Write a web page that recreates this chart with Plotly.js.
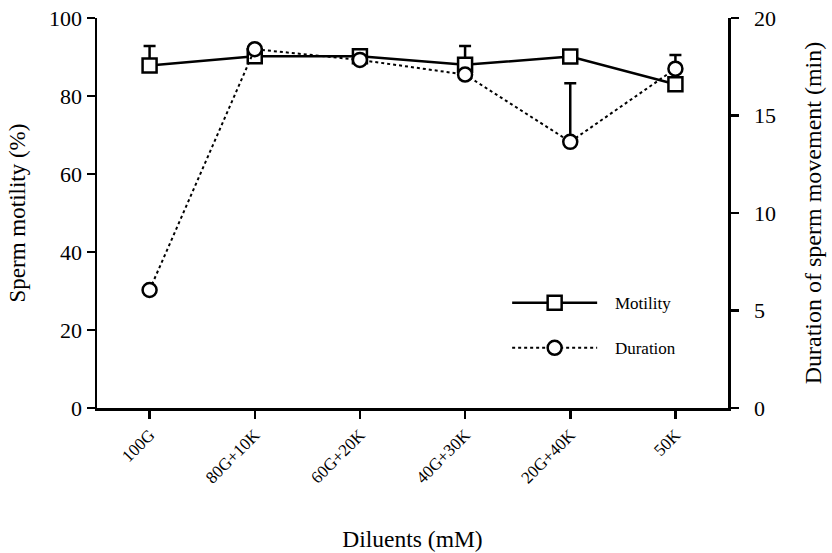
<!DOCTYPE html>
<html>
<head>
<meta charset="utf-8">
<script src="https://cdn.plot.ly/plotly-3.0.1.min.js"></script>
<style>html,body{margin:0;padding:0;background:#fff;}#chart{width:832px;height:553px;}</style>
</head>
<body>
<div id="chart"></div>
<script>
const diluents = ["100G", "80G+10K", "60G+20K", "40G+30K", "20G+40K", "50K"];
const motility = [87.8, 90.2, 90.2, 88, 90.1, 83];
const motilityErr = [5, 0, 0, 4.8, 0, 0];
const duration = [6.05, 18.4, 17.85, 17.1, 13.65, 17.4];
const durationErr = [0, 0, 0, 0, 3.0, 0.7];
const zeros = [0, 0, 0, 0, 0, 0];
const seriesNames = ["Motility", "Duration"];
const rightTicks = [0, 5, 10, 15, 20];

const FONT = "Liberation Serif, Times New Roman, serif";
const PAD = "\u00a0\u00a0\u00a0";

const traces = [
  {
    x: diluents, y: duration, name: PAD + seriesNames[1], yaxis: "y2", type: "scatter",
    mode: "lines+markers", legendgroup: "b", legendrank: 2,
    line: {color: "#000", width: 2, dash: "dot"},
    marker: {symbol: "circle", size: 14, color: "#fff", line: {width: 2.5, color: "#000"}},
    error_y: {type: "data", symmetric: false, array: durationErr, arrayminus: zeros, color: "#000", thickness: 2.5, width: 6}
  },
  {
    x: diluents, y: motility, name: PAD + seriesNames[0], type: "scatter",
    mode: "lines+markers", legendgroup: "a", legendrank: 1,
    line: {color: "#000", width: 2.5},
    marker: {symbol: "square", size: 14, color: "#fff", line: {width: 2.5, color: "#000"}},
    error_y: {type: "data", symmetric: false, array: motilityErr, arrayminus: zeros, color: "#000", thickness: 2.5, width: 6}
  }
];

const layout = {
  width: 832, height: 553,
  margin: {l: 97, r: 104, t: 18, b: 145},
  paper_bgcolor: "#fff", plot_bgcolor: "#fff",
  font: {family: FONT, color: "#000", size: 20},
  showlegend: true,
  legend: {
    x: 0.65, y: 0.315, xanchor: "left", yanchor: "top",
    bgcolor: "rgba(0,0,0,0)", font: {family: FONT, size: 17},
    traceorder: "grouped", tracegroupgap: 20, itemwidth: 85
  },
  xaxis: {
    type: "category", range: [-0.5, 5.5],
    showline: true, linecolor: "#000", linewidth: 2.5, mirror: false,
    ticks: "outside", ticklen: 8, tickwidth: 2.5, tickcolor: "#000",
    tickangle: -45, tickfont: {family: FONT, size: 17},
    showgrid: false, zeroline: false,
    title: {text: "Diluents (mM)", font: {family: FONT, size: 23.5}, standoff: 44}
  },
  yaxis: {
    range: [0, 100], dtick: 20, tick0: 0,
    showline: true, linecolor: "#000", linewidth: 2.5,
    ticks: "outside", ticklen: 8, tickwidth: 2.5, tickcolor: "#000",
    tickfont: {family: FONT, size: 22},
    showgrid: false, zeroline: false,
    title: {text: "Sperm motility (%)", font: {family: FONT, size: 23}, standoff: 17}
  },
  yaxis2: {
    range: [0, 20], overlaying: "y", side: "right",
    tickmode: "array", tickvals: rightTicks,
    ticktext: rightTicks.map(v => "\u2002" + v),
    showline: true, linecolor: "#000", linewidth: 2.5,
    ticks: "outside", ticklen: 8, tickwidth: 2.5, tickcolor: "#000",
    tickfont: {family: FONT, size: 22},
    showgrid: false, zeroline: false,
    title: {text: "Duration of sperm movement (min)", font: {family: FONT, size: 24}, standoff: 30}
  }
};

Plotly.newPlot("chart", traces, layout, {displayModeBar: false, staticPlot: true});
</script>
</body>
</html>
